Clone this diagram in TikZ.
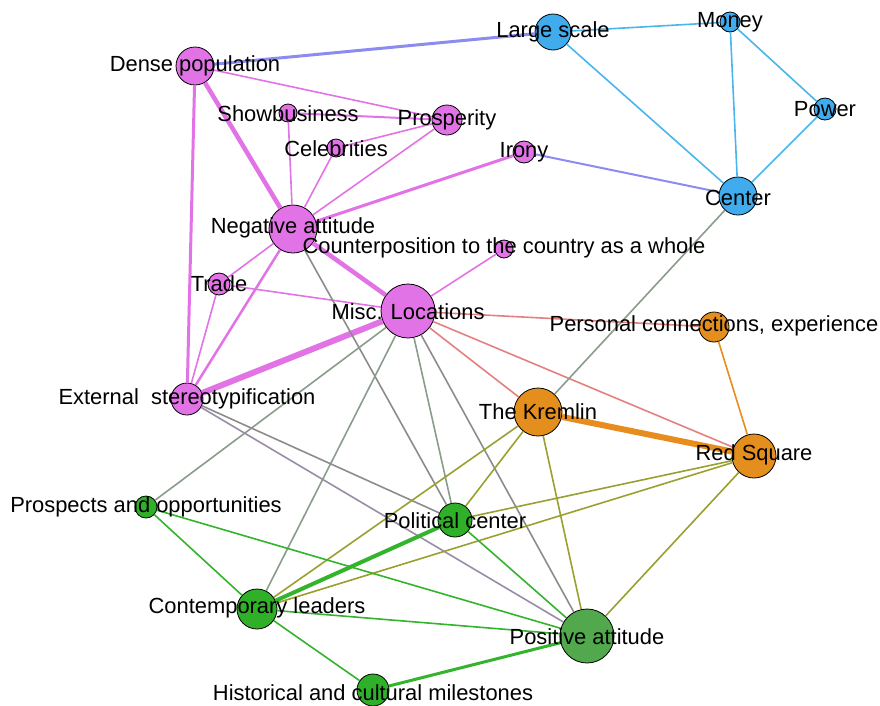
\documentclass[tikz,border=0pt]{standalone}
\usepackage{fontspec}
\setmainfont{Liberation Sans}
\definecolor{pinkc}{RGB}{226,115,230}
\definecolor{bluec}{RGB}{64,172,238}
\definecolor{orangec}{RGB}{228,142,30}
\definecolor{greenc}{RGB}{48,176,40}
\definecolor{posgreen}{RGB}{82,168,76}
\definecolor{blueedge}{RGB}{72,182,236}
\definecolor{purpleedge}{RGB}{140,140,240}
\definecolor{salmon}{RGB}{228,128,128}
\definecolor{graygreen}{RGB}{138,156,138}
\definecolor{grayline}{RGB}{140,140,140}
\definecolor{graypurple}{RGB}{154,140,164}
\definecolor{olive}{RGB}{154,160,48}
\definecolor{greenedge}{RGB}{52,180,44}
\definecolor{orangeedge}{RGB}{232,140,30}
\tikzset{
  vtx/.style={circle, draw=black, line width=0.8pt, inner sep=0pt, minimum size=#1},
  lbl/.style={font=\fontsize{21.9}{26}\selectfont, text=black, inner sep=0pt},
  ed/.style={line width=1.6pt},
}
\begin{document}
\begin{tikzpicture}[x=1pt,y=-1pt]
\useasboundingbox (0,0) rectangle (880,705);
% nodes (circles)
\node[vtx=38pt, fill=pinkc] (dense) at (195,66) {};
\node[vtx=36pt, fill=bluec] (large) at (553,32) {};
\node[vtx=20pt, fill=bluec] (money) at (730,22) {};
\node[vtx=22pt, fill=bluec] (power) at (825,109) {};
\node[vtx=38pt, fill=bluec] (center) at (738,196) {};
\node[vtx=18pt, fill=pinkc] (show) at (288,113) {};
\node[vtx=30pt, fill=pinkc] (prosp) at (447,120) {};
\node[vtx=18pt, fill=pinkc] (celeb) at (336,148) {};
\node[vtx=22pt, fill=pinkc] (irony) at (524,152) {};
\node[vtx=48pt, fill=pinkc] (neg) at (293,229) {};
\node[vtx=18pt, fill=pinkc] (counter) at (504,249) {};
\node[vtx=22pt, fill=pinkc] (trade) at (219,284) {};
\node[vtx=54pt, fill=pinkc] (misc) at (408,311) {};
\node[vtx=30pt, fill=orangec] (pers) at (714,327) {};
\node[vtx=32pt, fill=pinkc] (ext) at (187,399) {};
\node[vtx=48pt, fill=orangec] (kremlin) at (538,412) {};
\node[vtx=44pt, fill=orangec] (red) at (754,456) {};
\node[vtx=22pt, fill=greenc] (prospects) at (146,507) {};
\node[vtx=34pt, fill=greenc] (pol) at (455,520) {};
\node[vtx=40pt, fill=greenc] (cont) at (257,609) {};
\node[vtx=54pt, fill=posgreen] (pos) at (587,636) {};
\node[vtx=32pt, fill=greenc] (hist) at (373,690) {};
% edges
\draw[ed, blueedge] (large) -- (money);
\draw[ed, blueedge] (large) -- (center);
\draw[ed, blueedge] (money) -- (center);
\draw[ed, blueedge] (money) -- (power);
\draw[ed, blueedge] (power) -- (center);
\draw[ed, purpleedge, line width=3pt] (dense) -- (large);
\draw[ed, purpleedge, line width=2pt] (irony) -- (center);
\draw[ed, pinkc] (dense) -- (prosp);
\draw[ed, pinkc, line width=4.5pt] (dense) -- (neg);
\draw[ed, pinkc, line width=3pt] (dense) -- (ext);
\draw[ed, pinkc, line width=2pt] (show) -- (prosp);
\draw[ed, pinkc] (show) -- (neg);
\draw[ed, pinkc] (celeb) -- (prosp);
\draw[ed, pinkc] (celeb) -- (neg);
\draw[ed, pinkc] (prosp) -- (neg);
\draw[ed, pinkc, line width=3pt] (irony) -- (neg);
\draw[ed, pinkc, line width=4.5pt] (neg) -- (misc);
\draw[ed, pinkc] (neg) -- (trade);
\draw[ed, pinkc, line width=2.5pt] (neg) -- (ext);
\draw[ed, pinkc] (trade) -- (misc);
\draw[ed, pinkc] (trade) -- (ext);
\draw[ed, pinkc] (counter) -- (misc);
\draw[ed, pinkc, line width=6pt] (misc) -- (ext);
\draw[ed, grayline] (neg) -- (pol);
\draw[ed, graygreen] (misc) -- (prospects);
\draw[ed, graygreen] (misc) -- (cont);
\draw[ed, graygreen] (misc) -- (pol);
\draw[ed, grayline] (misc) -- (pos);
\draw[ed, salmon] (misc) -- (pers);
\draw[ed, salmon] (misc) -- (kremlin);
\draw[ed, salmon] (misc) -- (red);
\draw[ed, grayline] (ext) -- (pol);
\draw[ed, graypurple] (ext) -- (pos);
\draw[ed, graygreen] (center) -- (kremlin);
\draw[ed, orangeedge] (pers) -- (red);
\draw[ed, orangeedge, line width=6pt] (kremlin) -- (red);
\draw[ed, olive] (kremlin) -- (cont);
\draw[ed, olive] (kremlin) -- (pol);
\draw[ed, olive] (kremlin) -- (pos);
\draw[ed, olive] (red) -- (pol);
\draw[ed, olive] (red) -- (cont);
\draw[ed, olive] (red) -- (pos);
\draw[ed, greenedge] (prospects) -- (cont);
\draw[ed, greenedge] (prospects) -- (pos);
\draw[ed, greenedge, line width=4pt] (cont) -- (pol);
\draw[ed, greenedge] (cont) -- (pos);
\draw[ed, greenedge] (cont) -- (hist);
\draw[ed, greenedge, line width=3pt] (hist) -- (pos);
\draw[ed, greenedge] (pol) -- (pos);
% labels
\node[lbl] (dense-l) at (195,66) {Dense population};
\node[lbl] (large-l) at (553,32) {Large scale};
\node[lbl] (money-l) at (730,22) {Money};
\node[lbl] (power-l) at (825,109) {Power};
\node[lbl] (center-l) at (738,198) {Center};
\node[lbl] (show-l) at (288,114) {Showbusiness};
\node[lbl] (prosp-l) at (447,120) {Prosperity};
\node[lbl] (celeb-l) at (336,149) {Celebrities};
\node[lbl] (irony-l) at (524,152) {Irony};
\node[lbl] (neg-l) at (293,228) {Negative attitude};
\node[lbl] (counter-l) at (504,248) {Counterposition to the country as a whole};
\node[lbl] (trade-l) at (219,284) {Trade};
\node[lbl] (misc-l) at (408,312) {Misc. Locations};
\node[lbl] (pers-l) at (714,326) {Personal connections, experience};
\node[lbl] (ext-l) at (187,399) {External\ \ stereotypification};
\node[lbl] (kremlin-l) at (538,412) {The Kremlin};
\node[lbl] (red-l) at (754,455) {Red Square};
\node[lbl] (prospects-l) at (146,507) {Prospects and opportunities};
\node[lbl] (pol-l) at (455,521) {Political center};
\node[lbl] (cont-l) at (257,608) {Contemporary leaders};
\node[lbl] (pos-l) at (587,637) {Positive attitude};
\node[lbl] (hist-l) at (373,693) {Historical and cultural milestones};
\end{tikzpicture}
\end{document}
